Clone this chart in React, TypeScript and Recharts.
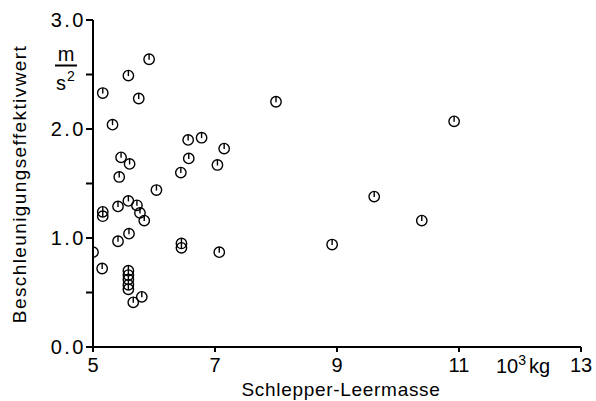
import React from "react";
import { ScatterChart, Scatter, XAxis, YAxis } from "recharts";

// Schlepper-Leermasse in 10^3 kg
const massValues = [
  5.16, 5.58, 5.92, 5.75, 5.32, 8.0, 10.92,
  6.56, 6.78, 7.15, 6.57, 7.04, 6.44,
  5.46, 5.6, 5.43, 6.04, 9.61, 10.39,
  5.16, 5.16, 5.41, 5.58, 5.72, 5.77, 5.84,
  5.41, 5.59, 5.0, 5.15,
  6.45, 6.45, 7.07, 8.92,
  5.58, 5.58, 5.58, 5.58, 5.58,
  5.66, 5.8,
];

// Beschleunigungseffektivwert in m/s^2
const accelValues = [
  2.33, 2.49, 2.64, 2.28, 2.04, 2.25, 2.07,
  1.9, 1.92, 1.82, 1.73, 1.67, 1.6,
  1.74, 1.68, 1.56, 1.44, 1.38, 1.16,
  1.24, 1.2, 1.29, 1.34, 1.3, 1.23, 1.16,
  0.97, 1.04, 0.87, 0.72,
  0.95, 0.91, 0.87, 0.94,
  0.7, 0.66, 0.62, 0.57, 0.53,
  0.41, 0.46,
];

const xTicks = [5, 7, 9, 11, 13];
const yTicks = [0, 0.5, 1, 1.5, 2, 2.5, 3];

const points = massValues.map((x, i) => ({ x, y: accelValues[i] }));

const tickFont = { fill: "#000", fontSize: 20, fontFamily: "Liberation Sans" };

// circle with a short stroke from the top down to the centre
const Marker = (props: any) => {
  const { cx, cy } = props;
  const r = 5.2;
  return (
    <g fill="none" stroke="#000" strokeWidth={1.4}>
      <circle cx={cx} cy={cy} r={r} />
      <line x1={cx} y1={cy - r} x2={cx} y2={cy + 0.5} />
    </g>
  );
};

export default function App() {
  return (
    <div style={{ position: "absolute", left: 0, top: 0, width: 596, height: 401, background: "#fff" }}>
      <ScatterChart width={596} height={401} margin={{ top: 20, right: 15, left: 0, bottom: 0 }}>
        <XAxis
          type="number"
          dataKey="x"
          domain={[5, 13]}
          ticks={xTicks}
          allowDataOverflow
          height={54}
          stroke="#000"
          strokeWidth={2}
          tickSize={5}
          tickMargin={6}
          tick={tickFont}
        />
        <YAxis
          type="number"
          dataKey="y"
          domain={[0, 3]}
          ticks={yTicks}
          width={93}
          stroke="#000"
          strokeWidth={2}
          tickSize={7}
          tickMargin={0}
          tick={{ ...tickFont, letterSpacing: 2.5 }}
          tickFormatter={(v: number) => (Number.isInteger(v) ? v.toFixed(1) : "")}
        />
        <Scatter data={points} shape={Marker} isAnimationActive={false} />
      </ScatterChart>
      <svg
        width={596}
        height={401}
        style={{ position: "absolute", left: 0, top: 0, pointerEvents: "none" }}
        fontFamily="Liberation Sans"
      >
        <text
          transform="translate(26,184) rotate(-90)"
          textAnchor="middle"
          fontSize={19}
          letterSpacing={1.4}
          fill="#000"
        >
          Beschleunigungseffektivwert
        </text>
        <text x={341} y={396} textAnchor="middle" fontSize={19} letterSpacing={0.7} fill="#000">
          Schlepper-Leermasse
        </text>
        {/* unit m/s² stacked as a fraction */}
        <text x={66} y={61} textAnchor="middle" fontSize={20} fill="#000">m</text>
        <line x1={55} y1={65.5} x2={77} y2={65.5} stroke="#000" strokeWidth={2} />
        <text x={56} y={90} fontSize={20} fill="#000">
          s<tspan fontSize={14} dx={1} dy={-9}>2</tspan>
        </text>
        <text x={496} y={373} fontSize={20} fill="#000">
          10<tspan fontSize={14} dy={-8}>3</tspan>
          <tspan dy={8} dx={3}>kg</tspan>
        </text>
      </svg>
    </div>
  );
}
